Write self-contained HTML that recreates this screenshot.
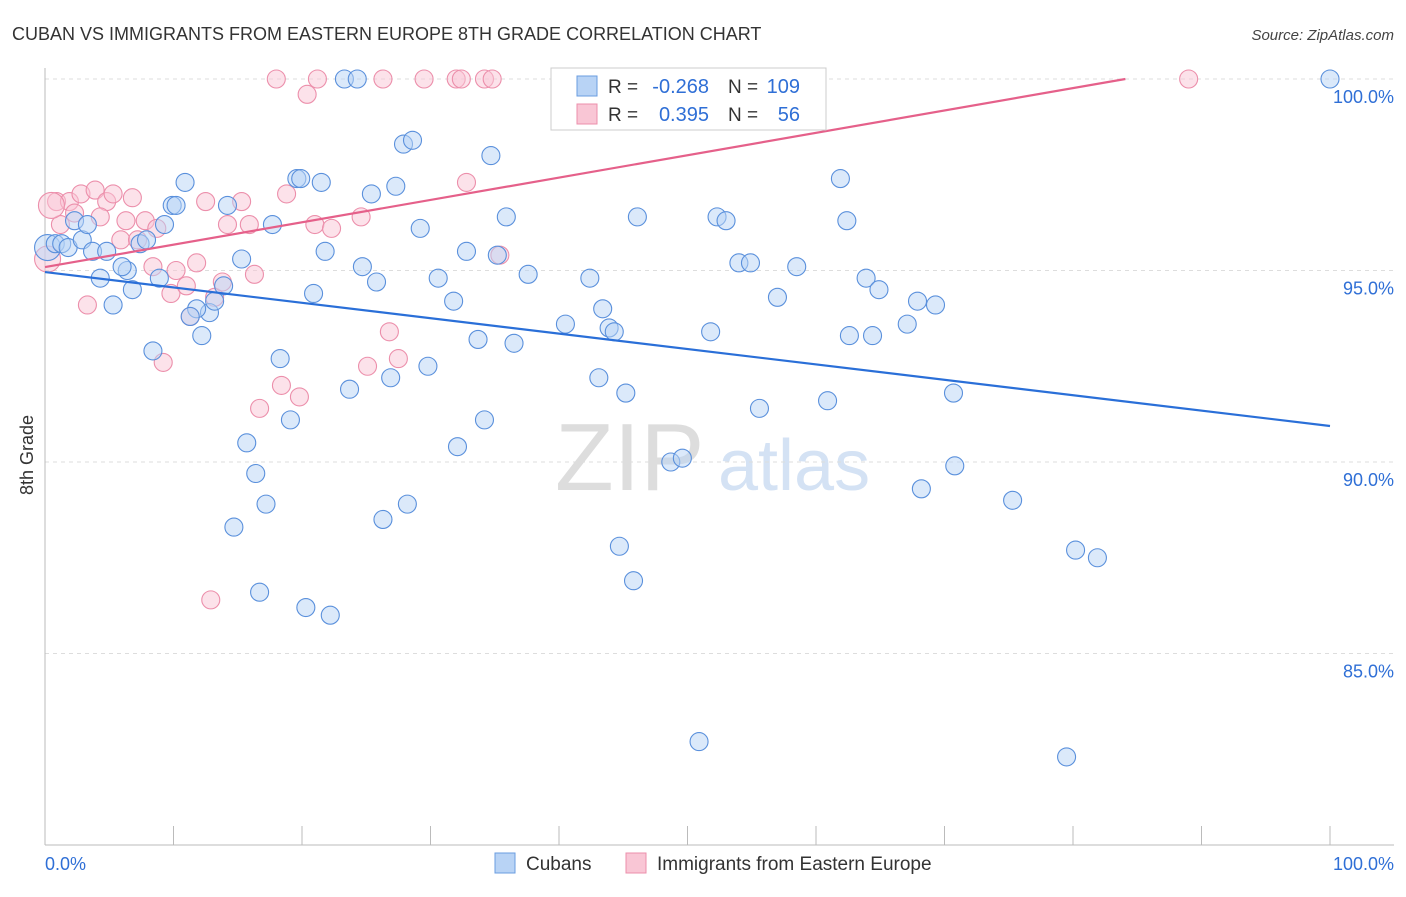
<!DOCTYPE html>
<html><head><meta charset="utf-8"><style>
body{margin:0;background:#fff;font-family:"Liberation Sans",sans-serif;}
svg text{font-family:"Liberation Sans",sans-serif;}
</style></head><body>
<svg id="chart" width="1406" height="892" xmlns="http://www.w3.org/2000/svg">
<text x="12" y="40" font-size="18" fill="#333">CUBAN VS IMMIGRANTS FROM EASTERN EUROPE 8TH GRADE CORRELATION CHART</text>
<text x="1394" y="40" font-size="15" fill="#444" text-anchor="end" font-style="italic">Source: ZipAtlas.com</text>
<g><text x="555" y="490" font-size="96" fill="#ddd" font-family="Liberation Serif,serif">ZIP</text><text x="718" y="490" font-size="72" fill="#d4e2f4">atlas</text></g>
<g id="grid"></g><g id="axes"></g><g id="pts"></g><g id="trend"></g>
<text transform="translate(33,455) rotate(-90)" font-size="18" fill="#333" text-anchor="middle">8th Grade</text>
<g>
<rect x="551" y="68" width="275" height="62" fill="#fff" stroke="#ccc"/>
<rect x="577" y="76" width="20" height="20" fill="#b8d3f5" stroke="#6a9de0"/>
<rect x="577" y="104" width="20" height="20" fill="#f9c6d5" stroke="#ec8fab"/>
<text x="608" y="93" font-size="19" fill="#333">R =</text>
<text x="709" y="93" font-size="20" fill="#2f6fd6" text-anchor="end">-0.268</text>
<text x="728" y="93" font-size="19" fill="#333">N =</text>
<text x="800" y="93" font-size="20" fill="#2f6fd6" text-anchor="end">109</text>
<text x="608" y="121" font-size="19" fill="#333">R =</text>
<text x="709" y="121" font-size="20" fill="#2f6fd6" text-anchor="end">0.395</text>
<text x="728" y="121" font-size="19" fill="#333">N =</text>
<text x="800" y="121" font-size="20" fill="#2f6fd6" text-anchor="end">56</text>
</g>
<g>
<rect x="495" y="853" width="20" height="20" fill="#b8d3f5" stroke="#6a9de0"/>
<text x="526" y="870" font-size="19" fill="#333">Cubans</text>
<rect x="626" y="853" width="20" height="20" fill="#f9c6d5" stroke="#ec8fab"/>
<text x="657" y="870" font-size="19" fill="#333">Immigrants from Eastern Europe</text>
</g>
</svg>
<script>
const yTicks=[100,95,90,85];
const yTickLabels=["100.0%","95.0%","90.0%","85.0%"];
const xEndLabels=["0.0%","100.0%"];
const blueX=[4.3,5.3,6.4,6.8,8.9,8.4,9.3,9.9,10.2,10.9,12.2,12.8,11.8,11.3,13.9,13.2,14.2,14.7,15.3,15.7,16.4,16.7,17.2,17.7,18.3,19.1,19.6,19.9,20.3,20.9,21.5,21.8,22.2,23.3,24.3,23.7,24.7,25.4,25.8,26.3,26.9,27.3,27.9,28.6,28.2,29.2,29.8,30.6,31.8,32.1,32.8,33.7,34.2,34.7,35.2,35.9,36.5,37.6,40.5,42.4,43.1,43.4,43.9,44.3,44.7,45.2,45.8,46.1,48.7,49.6,50.9,51.8,52.3,53.0,54.0,54.9,55.6,57.0,58.5,60.9,61.9,62.4,62.6,63.9,64.4,64.9,67.1,67.9,68.2,69.3,70.7,70.8,75.3,79.5,80.2,81.9,100,0.2,0.8,1.3,1.8,2.3,2.9,3.3,3.7,4.8,7.4,7.9,6.0];
const blueY=[94.8,94.1,95.0,94.5,94.8,92.9,96.2,96.7,96.7,97.3,93.3,93.9,94.0,93.8,94.6,94.2,96.7,88.3,95.3,90.5,89.7,86.6,88.9,96.2,92.7,91.1,97.4,97.4,86.2,94.4,97.3,95.5,86.0,100,100,91.9,95.1,97.0,94.7,88.5,92.2,97.2,98.3,98.4,88.9,96.1,92.5,94.8,94.2,90.4,95.5,93.2,91.1,98.0,95.4,96.4,93.1,94.9,93.6,94.8,92.2,94.0,93.5,93.4,87.8,91.8,86.9,96.4,90.0,90.1,82.7,93.4,96.4,96.3,95.2,95.2,91.4,94.3,95.1,91.6,97.4,96.3,93.3,94.8,93.3,94.5,93.6,94.2,89.3,94.1,91.8,89.9,89.0,82.3,87.7,87.5,100,95.6,95.7,95.7,95.6,96.3,95.8,96.2,95.5,95.5,95.7,95.8,95.1];
const pinkX=[0.9,1.9,2.8,3.9,4.8,5.3,6.8,2.3,1.2,4.3,6.3,7.8,5.9,7.2,8.7,8.4,10.2,9.8,11.0,11.8,12.5,13.2,13.8,15.3,14.2,15.9,16.3,11.3,12.9,9.2,3.3,16.7,18.4,18.8,19.8,18.0,20.4,21.2,21.0,22.3,24.6,25.1,26.8,27.5,26.3,29.5,32.0,32.4,34.2,34.8,32.8,35.4,89.0,0.2,0.5];
const pinkY=[96.8,96.8,97.0,97.1,96.8,97.0,96.9,96.5,96.2,96.4,96.3,96.3,95.8,95.8,96.1,95.1,95.0,94.4,94.6,95.2,96.8,94.3,94.7,96.8,96.2,96.2,94.9,93.8,86.4,92.6,94.1,91.4,92.0,97.0,91.7,100,99.6,100,96.2,96.1,96.4,92.5,93.4,92.7,100,100,100,100,100,100,97.3,95.4,100,95.3,96.7];
const blueTrend=[94.96,90.94];
const pinkTrend=[95.09,0.0584];
const X=v=>45+v*12.85, Y=v=>79+(100-v)*38.3;
const NS="http://www.w3.org/2000/svg";
function mk(t,a,p){const e=document.createElementNS(NS,t);for(const k in a)e.setAttribute(k,a[k]);p.appendChild(e);return e;}
const grid=document.getElementById('grid'),axes=document.getElementById('axes'),pts=document.getElementById('pts'),tr=document.getElementById('trend');
yTicks.forEach((t,i)=>{const l=mk('line',{x1:45,x2:1394,y1:Y(t),y2:Y(t),stroke:'#ddd','stroke-dasharray':'4,4'},grid);


const tx=mk('text',{x:1394,y:Y(t)+24,'font-size':18,fill:'#2f6fd6','text-anchor':'end'},axes);tx.textContent=yTickLabels[i];

});
const ax=mk('line',{x1:45,x2:1394,y1:845,y2:845,stroke:'#bbb'},axes);


const ay=mk('line',{x1:45,x2:45,y1:68,y2:845,stroke:'#bbb'},axes);


for(let i=0;i<=10;i++){const t=mk('line',{x1:X(i*10),x2:X(i*10),y1:826,y2:845,stroke:'#bbb'},axes);

}
[[0,'start'],[100,'end']].forEach((d,i)=>{const t=mk('text',{x:i?1394:45,y:870,'font-size':18,fill:'#2f6fd6','text-anchor':d[1]},axes);t.textContent=xEndLabels[i];

});
function dots(xs,ys,fill,stroke,name,bigIdx){xs.forEach((x,i)=>{const c=mk('circle',{cx:X(x),cy:Y(ys[i]),r:bigIdx.includes(i)?13:9,fill:fill,'fill-opacity':0.5,stroke:stroke,'stroke-width':1.1},pts);

});}
dots(pinkX,pinkY,'#f9c6d5','#ec8fab','eastern-europe-point',[53,54]);
dots(blueX,blueY,'#b8d3f5','#5a90dc','cuban-point',[97]);
const bl=mk('line',{x1:X(0),y1:Y(blueTrend[0]),x2:X(100),y2:Y(blueTrend[1]),stroke:'#2a6fd8','stroke-width':2.2},tr);


const xe=(100-pinkTrend[0])/pinkTrend[1];
const pl=mk('line',{x1:X(0),y1:Y(pinkTrend[0]),x2:X(xe),y2:Y(100),stroke:'#e5608a','stroke-width':2.2},tr);


</script>
</body></html>
